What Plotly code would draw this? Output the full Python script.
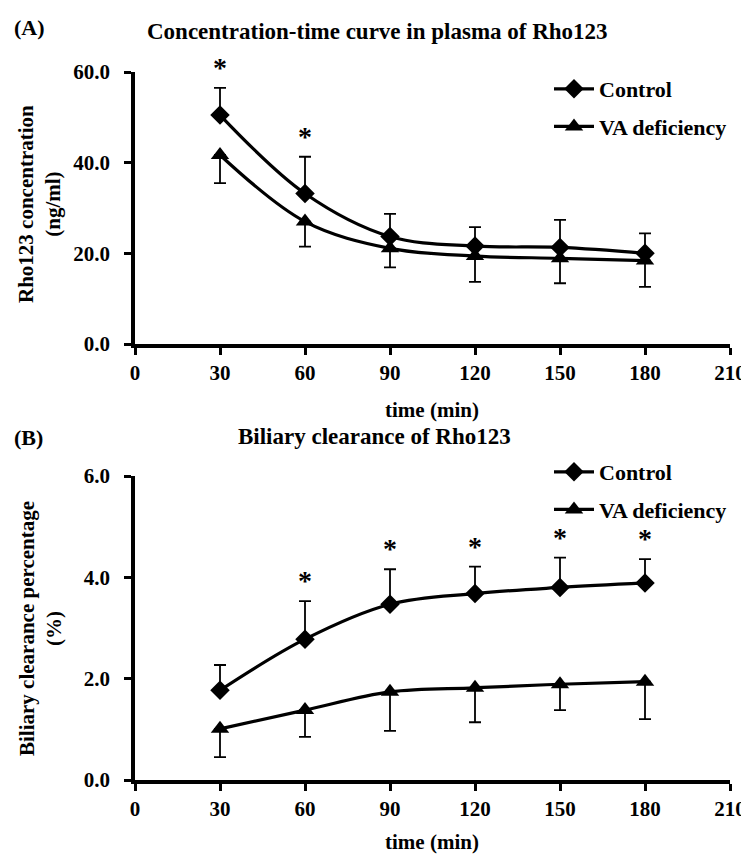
import plotly.graph_objects as go

# ---- data ----
time_min = [30, 60, 90, 120, 150, 180]
x_ticks = [0, 30, 60, 90, 120, 150, 180, 210]

# Panel A: plasma concentration (ng/ml)
plasma_control = [50.5, 33.2, 23.7, 21.6, 21.3, 20.0]
plasma_control_sd = [6.0, 8.1, 5.0, 4.2, 6.1, 4.4]
plasma_vad = [41.7, 27.0, 21.1, 19.4, 18.9, 18.4]
plasma_vad_sd = [6.2, 5.5, 4.2, 5.7, 5.5, 5.8]
plasma_sig = [30, 60]
plasma_yticks = [0, 20, 40, 60]

# Panel B: biliary clearance (%)
bile_control = [1.77, 2.78, 3.47, 3.68, 3.80, 3.89]
bile_control_sd = [0.50, 0.75, 0.69, 0.53, 0.59, 0.47]
bile_vad = [1.01, 1.38, 1.74, 1.82, 1.89, 1.94]
bile_vad_sd = [0.56, 0.53, 0.77, 0.68, 0.51, 0.74]
bile_sig = [60, 90, 120, 150, 180]
bile_yticks = [0, 2, 4, 6]

series_names = ["Control", "VA deficiency"]

# the page body has an 8px margin; the figure starts at (8, 8) and reaches
# the window's right and bottom edges. Positions below are window pixels.
OFF = 8
W, H = 749 - OFF, 857 - OFF
FONT = "Liberation Serif"


def px(v):
    return (v - OFF) / W


def py(v):
    return 1 - (v - OFF) / H


def bfont(size):
    return dict(family=FONT, size=size, color="black", weight="bold")


fig = go.Figure()


def add_panel(xa, ya, leg, ctrl, ctrl_sd, vad, vad_sd):
    fig.add_trace(go.Scatter(
        x=time_min, y=ctrl, name=series_names[0], xaxis=xa, yaxis=ya,
        legend=leg, legendgroup=leg + "c",
        mode="lines+markers", line=dict(color="black", width=3.2, shape="spline"),
        marker=dict(symbol="diamond", size=15, color="black"),
        error_y=dict(type="data", array=ctrl_sd, arrayminus=[0] * len(ctrl_sd),
                     symmetric=False, color="black", thickness=1.8, width=6),
        cliponaxis=False,
    ))
    fig.add_trace(go.Scatter(
        x=time_min, y=vad, name=series_names[1], xaxis=xa, yaxis=ya,
        legend=leg, legendgroup=leg + "v",
        mode="lines+markers", line=dict(color="black", width=3.2, shape="spline"),
        marker=dict(symbol="triangle-up", size=16, color="black"),
        error_y=dict(type="data", array=[0] * len(vad_sd), arrayminus=vad_sd,
                     symmetric=False, color="black", thickness=1.8, width=6),
        cliponaxis=False,
    ))


add_panel("x", "y", "legend", plasma_control, plasma_control_sd, plasma_vad, plasma_vad_sd)
add_panel("x2", "y2", "legend2", bile_control, bile_control_sd, bile_vad, bile_vad_sd)

xdom = [px(135), px(730)]
axis_common = dict(showline=True, linecolor="black", linewidth=3.5, ticks="outside",
                   ticklen=7, tickwidth=2.5, tickcolor="black", showgrid=False,
                   zeroline=False, automargin=False, ticklabeloverflow="allow",
                   tickfont=bfont(21))

fig.update_layout(
    width=W, height=H, margin=dict(l=0, r=0, t=0, b=0, autoexpand=False),
    paper_bgcolor="white", plot_bgcolor="white",
    font=dict(family=FONT, color="black"),
    xaxis=dict(domain=xdom, range=[0, 210], tickvals=x_ticks, anchor="y", **axis_common),
    yaxis=dict(domain=[py(344), py(72)], range=[0, 60], tickvals=plasma_yticks,
               tickformat=".1f", anchor="x", ticklabelstandoff=10, **axis_common),
    xaxis2=dict(domain=xdom, range=[0, 210], tickvals=x_ticks, anchor="y2", **axis_common),
    yaxis2=dict(domain=[py(780), py(476)], range=[0, 6], tickvals=bile_yticks,
                tickformat=".1f", anchor="x2", ticklabelstandoff=10, **axis_common),
    legend=dict(x=px(549), y=py(68), xanchor="left", yanchor="top",
                font=bfont(22), itemwidth=40,
                traceorder="grouped", tracegroupgap=6, bgcolor="rgba(0,0,0,0)"),
    legend2=dict(x=px(549), y=py(451), xanchor="left", yanchor="top",
                 font=bfont(22), itemwidth=40,
                 traceorder="grouped", tracegroupgap=6, bgcolor="rgba(0,0,0,0)"),
)

ann = []
# asterisks
for t in plasma_sig:
    i = time_min.index(t)
    ann.append(dict(x=t, y=plasma_control[i] + plasma_control_sd[i], xref="x", yref="y",
                    text="*", showarrow=False, yanchor="bottom", yshift=3,
                    font=bfont(28)))
for t in bile_sig:
    i = time_min.index(t)
    ann.append(dict(x=t, y=bile_control[i] + bile_control_sd[i], xref="x2", yref="y2",
                    text="*", showarrow=False, yanchor="bottom", yshift=3,
                    font=bfont(28)))

# panel labels and titles
ann += [
    dict(x=px(12), y=py(28), xref="paper", yref="paper", text="(A)", showarrow=False,
         xanchor="left", yanchor="middle", font=bfont(22)),
    dict(x=px(377), y=py(32), xref="paper", yref="paper",
         text="Concentration-time curve in plasma of Rho123", showarrow=False,
         xanchor="center", yanchor="middle", font=bfont(23)),
    dict(x=px(12), y=py(437), xref="paper", yref="paper", text="(B)", showarrow=False,
         xanchor="left", yanchor="middle", font=bfont(22)),
    dict(x=px(374), y=py(436), xref="paper", yref="paper",
         text="Biliary clearance of Rho123", showarrow=False,
         xanchor="center", yanchor="middle", font=bfont(23)),
    dict(x=px(432), y=py(410), xref="paper", yref="paper", text="time (min)",
         showarrow=False, xanchor="center", yanchor="middle", font=bfont(21)),
    dict(x=px(432), y=py(842), xref="paper", yref="paper", text="time (min)",
         showarrow=False, xanchor="center", yanchor="middle", font=bfont(21)),
    dict(x=px(40), y=py(204), xref="paper", yref="paper",
         text="Rho123 concentration<br>(ng/ml)", textangle=-90,
         showarrow=False, xanchor="center", yanchor="middle", font=bfont(21)),
    dict(x=px(40), y=py(629), xref="paper", yref="paper",
         text="Biliary clearance percentage<br>(%)", textangle=-90,
         showarrow=False, xanchor="center", yanchor="middle", font=bfont(21)),
]
fig.update_layout(annotations=ann)

fig.write_html("out.html")
